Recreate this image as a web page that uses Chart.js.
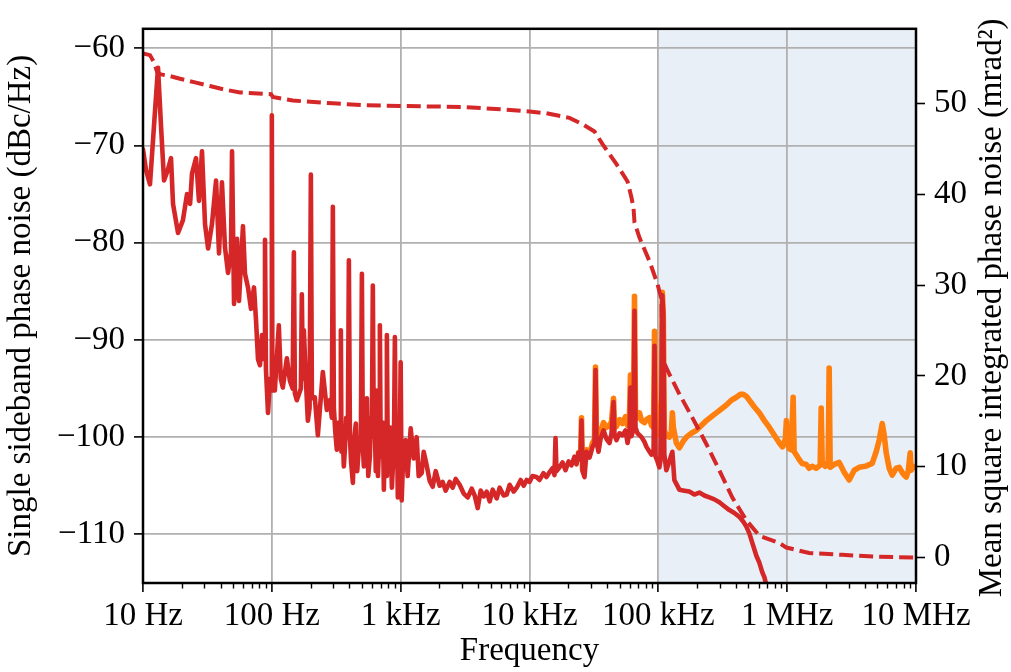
<!DOCTYPE html>
<html>
<head>
<meta charset="utf-8">
<title>Phase noise</title>
<script src="https://cdn.jsdelivr.net/npm/chart.js@4.4.0/dist/chart.umd.min.js"></script>
<style>
	html, body { margin: 0; padding: 0; background: #ffffff; }
	canvas { display: block; }
</style>
</head>
<body>
<canvas id="phase-noise-canvas" width="1011" height="672"></canvas>
<script>
// Filtered spectrum (red): offset frequency in Hz, SSB phase noise in dBc/Hz
var filteredFreq = [
	10, 10.55, 11.33, 12.17, 13.08, 13.8, 14.56, 15.6, 16.5, 17.1,
	18.7, 20.4, 21.96, 23.2, 24.0, 25.8, 27.2, 28.7, 30.3, 32.0,
	34.3, 36.9, 38.9, 41.0, 43.3, 45.7, 48.2, 49.1, 50.9, 53.7,
	55.6, 59.7, 61.9, 65.3, 68.9, 72.7, 75.4, 78.1, 80.9, 83.9,
	87.0, 88.5, 90.0, 93.4, 96.8, 99.0, 100, 101, 105.5, 113.3,
	117.4, 121.7, 130.8, 138, 145, 148.3, 151, 156.3, 168, 171,
	174, 177.2, 183.6, 190.3, 196.3, 200.9, 204.6, 215.6, 227.6, 248.8,
	267.3, 281.9, 292.3, 297.6, 303, 311, 319.6, 330, 340, 343.4,
	347, 355.8, 362, 368.8, 378, 389, 396.3, 403.7, 412, 425.6,
	437, 448.9, 460, 473.7, 491, 500, 509, 518, 527.3, 536,
	546.7, 560, 576.7, 588, 597, 608, 619, 630, 641, 653.3,
	666, 680, 689.5, 700, 714.5, 727, 740.6, 750, 760, 771,
	781.6, 795, 809.9, 830, 854.7, 870, 885, 901.6, 918, 935,
	950.5, 965, 985.8, 1000, 1018, 1055, 1093, 1133, 1196, 1262,
	1331, 1380, 1456, 1509, 1592, 1680, 1772, 1870, 2008, 2118,
	2236, 2401, 2533, 2673, 2871, 3084, 3313, 3559, 3754, 3963,
	4180, 4410, 4653, 4909, 5180, 5564, 5870, 6304, 6652, 7018,
	7539, 7955, 8546, 9016, 9511, 10000, 10550, 11330, 11960, 12840,
	13550, 14300, 15090, 15630, 15920, 16200, 17100, 18040, 19030, 20090,
	21180, 22360, 23170, 23990, 24880, 25330, 25790, 26730, 27700, 29230,
	30830, 31960, 32540, 33130, 34330, 35590, 37540, 39610, 41790, 43310,
	44880, 45700, 47340, 50000, 52720, 55600, 57660, 59700, 60780, 61940,
	64160, 65310, 66520, 68940, 74060, 78150, 80950, 85450, 88520, 91800,
	93430, 95100, 98580, 101800, 103600, 105500, 107400, 109300, 111300, 115400,
	121700, 128500, 133100, 138000, 145600, 159200, 174100, 190300, 208000, 227600,
	248800, 272300, 297700, 325400, 355900, 389100, 425600, 457100, 482300, 508800,
	537000, 576700, 608100, 641300, 665200, 701700, 753500
];
var filteredNoise = [
	-70.4, -72.5, -74.0, -68.0, -62.0, -68.0, -73.6, -72.5, -71.3, -76.0,
	-79.0, -77.7, -75.0, -76.0, -72.9, -71.3, -75.7, -70.6, -78.1, -80.6,
	-78.1, -73.6, -81.1, -73.8, -80.5, -83.1, -81.0, -70.6, -86.3, -79.6,
	-86.0, -78.3, -83.2, -84.6, -86.8, -84.6, -88.0, -92.0, -92.6, -89.5,
	-92.0, -79.7, -93.0, -97.5, -94.0, -95.0, -66.9, -95.2, -95.2, -88.5,
	-94.0, -94.9, -91.9, -94.2, -95.0, -81.0, -95.5, -96.2, -95.0, -85.3,
	-94.0, -89.0, -94.0, -98.3, -97.0, -73.0, -96.0, -95.9, -99.8, -93.3,
	-97.2, -96.2, -98.0, -76.3, -97.0, -99.5, -101.3, -98.5, -100.5, -89.0,
	-101.5, -100.0, -103.0, -101.3, -98.0, -100.0, -81.8, -100.0, -102.5, -104.7,
	-100.0, -98.6, -103.5, -101.0, -100.0, -83.2, -101.0, -103.0, -99.0, -102.5,
	-96.0, -104.0, -102.0, -98.0, -100.0, -84.4, -100.0, -99.0, -103.5, -95.2,
	-104.0, -101.0, -88.5, -102.0, -101.0, -98.5, -105.4, -101.5, -102.0, -104.0,
	-89.5, -103.0, -103.0, -99.0, -105.2, -103.0, -102.0, -89.7, -103.0, -98.5,
	-106.2, -104.5, -100.0, -92.3, -106.5, -100.6, -100.3, -104.0, -99.1, -102.2,
	-100.0, -104.0, -103.7, -101.5, -102.9, -104.5, -105.1, -103.5, -105.0, -104.6,
	-105.5, -104.6, -105.2, -104.3, -104.9, -105.8, -106.2, -105.3, -106.0, -107.3,
	-105.5, -106.1, -105.6, -106.6, -105.4, -106.3, -105.2, -106.0, -105.9, -104.9,
	-105.6, -105.2, -104.4, -105.0, -104.4, -104.6, -104.0, -104.1, -104.4, -103.7,
	-104.1, -103.6, -103.2, -103.9, -100.1, -103.5, -103.1, -102.6, -103.4, -102.5,
	-102.9, -102.0, -102.8, -101.6, -102.3, -98.3, -103.5, -104.1, -101.5, -102.1,
	-101.0, -100.6, -93.1, -100.5, -101.5, -100.2, -99.3, -100.2, -100.6, -99.6,
	-96.4, -99.8, -100.3, -99.6, -99.8, -99.3, -100.6, -99.5, -94.9, -99.9,
	-99.2, -87.0, -99.0, -99.6, -100.0, -100.5, -101.0, -101.5, -101.8, -101.6,
	-90.6, -102.0, -102.5, -103.1, -102.5, -96.0, -85.4, -87.3, -101.8, -103.4,
	-102.5, -101.5, -104.4, -104.8, -105.4, -105.5, -105.6, -105.9, -105.7, -106.0,
	-106.2, -106.4, -106.7, -107.1, -107.5, -107.8, -108.2, -108.7, -109.2, -109.9,
	-110.9, -112.2, -112.9, -113.9, -114.4, -115.6, -117.0
];

// Unfiltered spectrum (orange), only visible where it leaves the red trace
var rawFreq = [
	23990, 24880, 25330, 25790, 27700, 29230, 30830, 31960, 32540, 33130,
	34330, 35590, 37540, 39610, 41790, 43310, 44880, 45700, 47340, 50000,
	52720, 55600, 57660, 59700, 60780, 61940, 64160, 65310, 66520, 68940,
	71450, 74060, 78150, 80950, 85450, 88520, 91800, 93430, 95100, 98580,
	101800, 105500, 107400, 109300, 111300, 115400, 121700, 126200, 128500, 130800,
	138000, 145600, 156300, 165000, 180400, 197400, 215600, 235900, 257800, 281900,
	308300, 337300, 368800, 403400, 433400, 457100, 482300, 508800, 556400, 608100,
	665200, 727400, 795500, 869900, 918000, 968200, 985800, 1000000, 1036000, 1074000,
	1113000, 1133000, 1175000, 1239000, 1308000, 1405000, 1482000, 1563000, 1680000, 1804000,
	1837000, 1870000, 1972000, 2081000, 2118000, 2157000, 2317000, 2535000, 2770000, 3030000,
	3313000, 3623000, 4034000, 4571000, 4909000, 5180000, 5467000, 5665000, 5870000, 6194000,
	6536000, 7018000, 7406000, 7955000, 8395000, 8700000, 9016000, 9180000, 9510000, 10000000
];
var rawNoise = [
	-101.6, -102.2, -98.0, -103.3, -101.3, -101.8, -100.6, -100.2, -92.8, -100.0,
	-100.8, -99.5, -98.5, -99.0, -98.8, -98.4, -96.0, -98.6, -98.9, -98.2,
	-98.6, -97.9, -98.8, -97.8, -93.6, -98.3, -97.7, -85.5, -97.6, -98.0,
	-97.5, -98.3, -98.5, -98.2, -98.0, -98.8, -99.0, -89.1, -99.2, -99.8,
	-99.6, -96.0, -85.1, -87.5, -99.3, -99.8, -100.0, -99.5, -97.5, -99.0,
	-100.6, -101.1, -100.4, -100.0, -99.6, -99.3, -98.8, -98.3, -97.9, -97.5,
	-97.1, -96.7, -96.2, -95.9, -95.6, -95.6, -95.8, -96.2, -96.9, -97.5,
	-98.3, -99.0, -99.8, -100.6, -101.0, -100.2, -98.3, -100.5, -101.2, -101.3,
	-95.9, -101.5, -101.8, -102.3, -102.7, -102.8, -103.2, -103.0, -103.2, -102.9,
	-97.0, -102.5, -103.0, -102.7, -92.9, -103.1, -102.8, -102.6, -103.6, -104.4,
	-103.4, -103.1, -103.0, -102.7, -101.5, -100.3, -98.6, -99.8, -101.6, -103.2,
	-103.9, -103.2, -103.1, -103.8, -104.1, -103.5, -101.6, -103.4, -103.0, -103.1
];

// Mean square integrated phase noise (mrad^2), integrated from the top frequency downwards
var integratedFreq = [
	10, 11.33, 12.17, 12.84, 13.55, 16.2, 19.37, 25.34, 33.1, 43.3,
	56.6, 98.6, 101.8, 145.6, 297.6, 509, 1000, 3030, 6652, 10000,
	13550, 20420, 25790, 31960, 36880, 47340, 57660, 61940, 64160, 65310,
	71450, 85450, 98580, 105500, 107400, 109300, 121700, 145600, 183600, 235900,
	297700, 375400, 482300, 608100, 870000, 985800, 1482000, 2673000, 4909000, 10000000
];
var integratedNoise = [
	55.5, 55.3, 54.5, 53.5, 53.2, 53.0, 52.7, 52.3, 51.9, 51.5,
	51.2, 51.0, 50.7, 50.3, 50.0, 49.8, 49.7, 49.6, 49.3, 49.1,
	48.9, 48.4, 47.7, 46.9, 45.5, 43.3, 41.4, 39.6, 38.5, 36.9,
	35.2, 32.6, 30.1, 28.5, 23.5, 21.6, 20.2, 18.0, 15.4, 12.5,
	9.6, 6.6, 4.1, 2.4, 1.6, 1.1, 0.5, 0.3, 0.1, 0.0
];

var freqTicks = [10, 100, 1e3, 1e4, 1e5, 1e6, 1e7];
var freqTickLabels = ["10 Hz", "100 Hz", "1 kHz", "10 kHz", "100 kHz", "1 MHz", "10 MHz"];
var noiseTicks = [-110, -100, -90, -80, -70, -60];
var integratedTicks = [0, 10, 20, 30, 40, 50];
var shadedBand = [1e5, 1e7];

var serifFamily = "'Liberation Serif', 'Times New Roman', serif";
var labelSize = 33;

window.onload = function() {
	initChart();
}

function toPoints(freqList, valueList) {
	var points = [];
	for(var i = 0; i < freqList.length; i++)
		points.push({x: freqList[i], y: valueList[i]});
	return points;
}

function formatMinus(value) {
	return value < 0 ? "\u2212" + Math.abs(value) : String(value);
}

// shaded band, frame, minor ticks and the right hand title
var decorPlugin = {
	id: "phaseNoiseDecor",
	beforeDraw: function(chart) {
		var ctx = chart.ctx;
		var area = chart.chartArea;
		var xScale = chart.scales.x;
		var left = xScale.getPixelForValue(shadedBand[0]);
		var right = xScale.getPixelForValue(shadedBand[1]);
		ctx.save();
		ctx.fillStyle = "rgb(232, 239, 246)";
		ctx.fillRect(left, area.top, right - left, area.bottom - area.top);
		ctx.restore();
	},
	afterDatasetsDraw: function(chart) {
		var ctx = chart.ctx;
		var area = chart.chartArea;
		ctx.save();
		ctx.strokeStyle = "#000000";
		ctx.lineWidth = 2.5;
		ctx.strokeRect(area.left, area.top, area.right - area.left, area.bottom - area.top);
		ctx.restore();
	},
	afterDraw: function(chart) {
		var ctx = chart.ctx;
		var area = chart.chartArea;
		var xScale = chart.scales.x;
		ctx.save();
		ctx.strokeStyle = "#000000";
		ctx.lineWidth = 1.4;
		ctx.beginPath();
		for(var decade = 10; decade < 1e7; decade *= 10) {
			for(var m = 2; m < 10; m++) {
				var px = Math.round(xScale.getPixelForValue(m * decade)) + 0.5;
				ctx.moveTo(px, area.bottom);
				ctx.lineTo(px, area.bottom + 5.5);
			}
		}
		ctx.stroke();

		ctx.translate(992, (area.top + area.bottom) / 2 + 2);
		ctx.rotate(-Math.PI / 2);
		ctx.fillStyle = "#000000";
		ctx.font = labelSize + "px " + serifFamily;
		ctx.textAlign = "center";
		ctx.textBaseline = "middle";
		ctx.fillText("Mean square integrated phase noise (mrad\u00B2)", 0, 0);
		ctx.restore();
	}
};

function initChart() {
	var tickFont = {family: serifFamily, size: labelSize};

	window.phaseNoiseChart = new Chart(document.getElementById("phase-noise-canvas"), {
		type: "line",
		data: {
			datasets: [{
				data: toPoints(integratedFreq, integratedNoise),
				yAxisID: "yInt",
				borderColor: "#d62728",
				borderWidth: 4,
				borderDash: [14, 6],
				clip: 0
			}, {
				data: toPoints(filteredFreq, filteredNoise),
				yAxisID: "y",
				borderColor: "#d62728",
				borderWidth: 4.6,
				borderJoinStyle: "round",
				borderCapStyle: "round",
				clip: 0
			}, {
				data: toPoints(rawFreq, rawNoise),
				yAxisID: "y",
				borderColor: "#ff7f0e",
				borderWidth: 5.6,
				borderJoinStyle: "round",
				borderCapStyle: "round",
				clip: 0
			}]
		},
		options: {
			responsive: false,
			devicePixelRatio: 1,
			animation: false,
			layout: {
				padding: {top: 28, left: 0, right: 0, bottom: 0}
			},
			elements: {
				point: {radius: 0},
				line: {tension: 0}
			},
			plugins: {
				legend: {display: false},
				tooltip: {enabled: false}
			},
			scales: {
				x: {
					type: "logarithmic",
					position: "bottom",
					min: 10,
					max: 1e7,
					afterBuildTicks: function(scale) {
						scale.ticks = freqTicks.map(function(v) { return {value: v}; });
					},
					afterFit: function(scale) {
						scale.height = 89;
					},
					ticks: {
						autoSkip: false,
						maxRotation: 0,
						minRotation: 0,
						padding: 5,
						color: "#000000",
						font: tickFont,
						callback: function(value, index) {
							return freqTickLabels[index];
						}
					},
					grid: {
						color: "#b0b0b0",
						lineWidth: 1.8,
						tickColor: "#000000",
						tickLength: 9,
						tickWidth: 1.6
					},
					border: {display: false},
					title: {
						display: true,
						text: "Frequency",
						color: "#000000",
						font: tickFont,
						padding: {top: 0, bottom: 1}
					}
				},
				y: {
					type: "linear",
					position: "left",
					min: -115,
					max: -58,
					afterBuildTicks: function(scale) {
						scale.ticks = noiseTicks.map(function(v) { return {value: v}; });
					},
					afterFit: function(scale) {
						scale.width = 143;
					},
					ticks: {
						padding: 9,
						color: "#000000",
						font: tickFont,
						callback: function(value) {
							return formatMinus(value);
						}
					},
					grid: {
						color: "#b0b0b0",
						lineWidth: 1.8,
						tickColor: "#000000",
						tickLength: 9,
						tickWidth: 1.6
					},
					border: {display: false},
					title: {
						display: true,
						text: "Single sideband phase noise (dBc/Hz)",
						color: "#000000",
						font: tickFont,
						padding: {top: 2, bottom: 0}
					}
				},
				yInt: {
					type: "linear",
					position: "right",
					min: -2.8,
					max: 58.2,
					afterBuildTicks: function(scale) {
						scale.ticks = integratedTicks.map(function(v) { return {value: v}; });
					},
					afterFit: function(scale) {
						scale.width = 95;
					},
					ticks: {
						padding: 9,
						color: "#000000",
						font: tickFont
					},
					grid: {
						drawOnChartArea: false,
						tickColor: "#000000",
						tickLength: 9,
						tickWidth: 1.6
					},
					border: {display: false}
				}
			}
		},
		plugins: [decorPlugin]
	});
}
</script>
</body>
</html>
